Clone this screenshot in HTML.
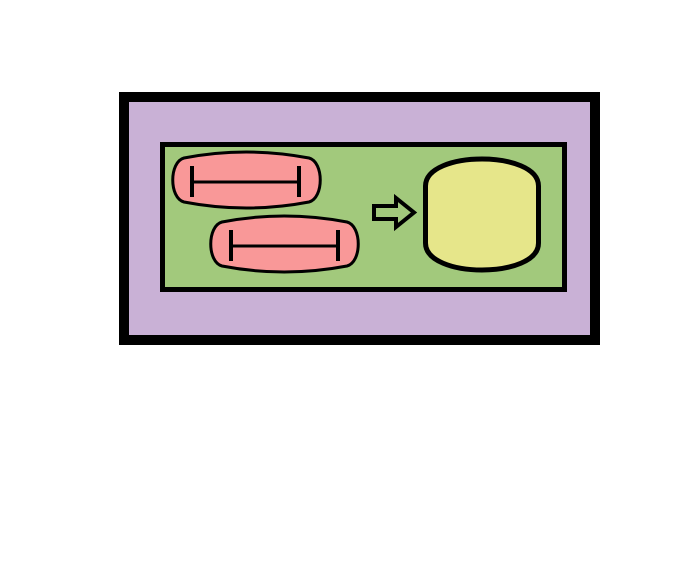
<!DOCTYPE html>
<html><head><meta charset="utf-8"><style>html,body{margin:0;padding:0;background:#fff}svg{display:block}</style></head>
<body>
<svg width="696" height="564" viewBox="0 0 696 564">
  <rect x="124" y="97" width="471" height="243" fill="#c9b1d6" stroke="#000" stroke-width="10"/>
  <rect x="162.5" y="144.5" width="402" height="145" fill="#a2c97c" stroke="#000" stroke-width="5"/>
  <g>
    <path d="M184,158 Q246,146 309,158 C324,162 324,198 309,202 Q246,214 184,202 C169,198 169,162 184,158 Z" fill="#f99898" stroke="#000" stroke-width="3"/>
    <line x1="192" y1="182" x2="299" y2="182" stroke="#000" stroke-width="3"/>
    <line x1="192" y1="166" x2="192" y2="197" stroke="#000" stroke-width="4"/>
    <line x1="299" y1="166" x2="299" y2="197" stroke="#000" stroke-width="4"/>
  </g>
  <g>
    <path d="M222,222 Q284,210 347,222 C362,226 362,262 347,266 Q284,278 222,266 C207,262 207,226 222,222 Z" fill="#f99898" stroke="#000" stroke-width="3"/>
    <line x1="231" y1="246" x2="338" y2="246" stroke="#000" stroke-width="3"/>
    <line x1="231" y1="230" x2="231" y2="261" stroke="#000" stroke-width="4"/>
    <line x1="338" y1="230" x2="338" y2="261" stroke="#000" stroke-width="4"/>
  </g>
  <path d="M374,206 L396,206 L396,198 L414,212.5 L396,227 L396,219 L374,219 Z" fill="#a2c97c" stroke="#000" stroke-width="4"/>
  <path d="M425.5,186 C425.5,150 538.5,150 538.5,186 L538.5,243 C538.5,279 425.5,279 425.5,243 Z" fill="#e6e68a" stroke="#000" stroke-width="5"/>
</svg>
</body></html>
